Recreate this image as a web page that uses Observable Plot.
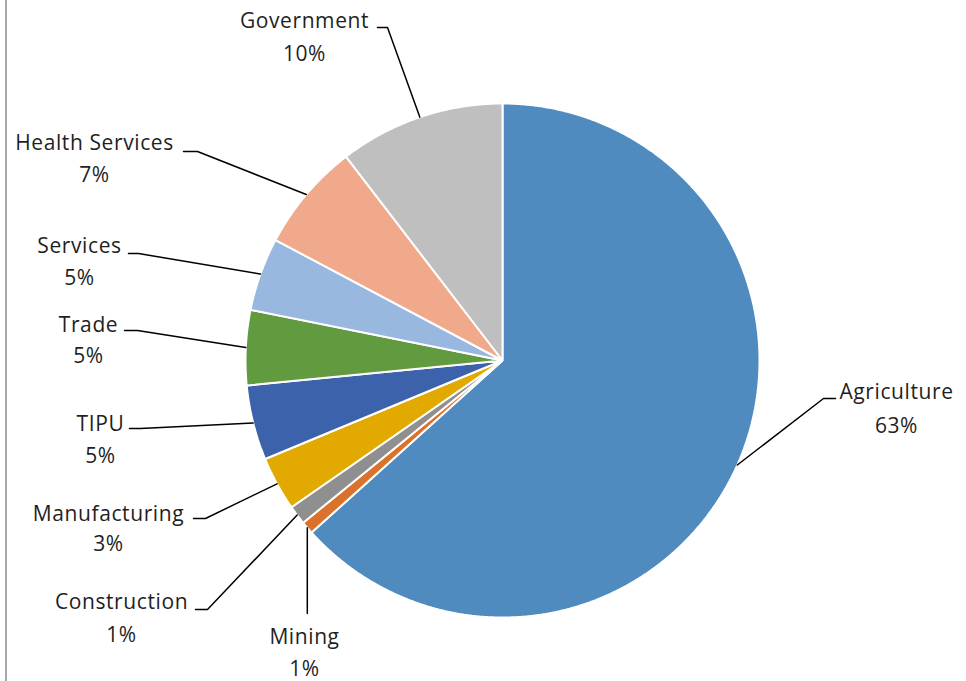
<!DOCTYPE html>
<html>
<head>
<meta charset="utf-8">
<script src="https://cdn.jsdelivr.net/npm/d3@7"></script>
<script src="https://cdn.jsdelivr.net/npm/@observablehq/plot@0.6"></script>
<style>
  html, body { margin: 0; padding: 0; background: #fff; }
  #wrap { position: relative; width: 966px; height: 681px; overflow: hidden; }
  #frame { position: absolute; left: 5px; top: 0; width: 0; height: 681px; border-left: 2px solid #a8a8a8; }
  #chart { position: absolute; left: 0; top: 0; }
</style>
</head>
<body>
<div id="wrap"><div id="chart"></div><div id="frame"></div></div>
<script>
// ---- data ----
const categories = ["Agriculture", "Mining", "Construction", "Manufacturing", "TIPU", "Trade", "Services", "Health Services", "Government"];
const shares = [63.2, 0.8, 1.2, 3.4, 4.7, 4.7, 4.6, 6.8, 10.4];
const colors = ["#4F8BBE", "#DB722C", "#8F8F8F", "#E2AA00", "#3C62AC", "#629A3F", "#98B8DF", "#F0A98A", "#BFBFBF"];

// ---- layout (label placement, chart units) ----
const CX = 502, CY = 360, R = 257;
// name centre x, name baseline, percent baseline, leader horizontal segment x1->x2 at ly
const labelLayout = [
  {tx: 896, ty: 398, py: 432, lx1: 835, lx2: 823, ly: 398},   // Agriculture
  {tx: 304, ty: 643, py: 675, lx1: null, lx2: null, ly: 613}, // Mining
  {tx: 121, ty: 608, py: 641, lx1: 195, lx2: 207, ly: 609},   // Construction
  {tx: 108, ty: 520, py: 550, lx1: 193, lx2: 205, ly: 518},   // Manufacturing
  {tx: 100, ty: 430, py: 462, lx1: 129, lx2: 140, ly: 428},   // TIPU
  {tx: 88,  ty: 331, py: 362, lx1: 124, lx2: 137, ly: 330},   // Trade
  {tx: 79,  ty: 252, py: 284, lx1: 128, lx2: 138, ly: 253},   // Services
  {tx: 94,  ty: 149, py: 181, lx1: 183, lx2: 197, ly: 151},   // Health Services
  {tx: 304, ty: 27,  py: 60,  lx1: 377, lx2: 387, ly: 27}     // Government
];

const total = d3.sum(shares);
const arcs = d3.pie().sort(null).value(d => d)(shares);
const pt = (a, r) => [CX + r * Math.sin(a), CY - r * Math.cos(a)];

// slice outlines
const slicePts = [];
arcs.forEach((a, i) => {
  const name = categories[i];
  slicePts.push({name, x: CX, y: CY});
  const steps = Math.max(2, Math.ceil((a.endAngle - a.startAngle) / 0.005));
  for (let k = 0; k <= steps; k++) {
    const t = a.startAngle + (a.endAngle - a.startAngle) * k / steps;
    const [x, y] = pt(t, R);
    slicePts.push({name, x, y});
  }
});

// labels and leader lines
const labels = categories.map((name, i) => ({
  name,
  pct: Math.round(shares[i] / total * 100) + "%",
  ...labelLayout[i]
}));
const leaderPts = [];
arcs.forEach((a, i) => {
  const L = labelLayout[i];
  const mid = (a.startAngle + a.endAngle) / 2;
  const [ex, ey] = pt(mid, R);
  const name = categories[i];
  if (L.lx1 == null) {
    leaderPts.push({name, x: ex, y: ey}, {name, x: ex, y: L.ly});
  } else {
    leaderPts.push({name, x: L.lx1, y: L.ly}, {name, x: L.lx2, y: L.ly}, {name, x: ex, y: ey});
  }
});

const font = "'Open Sans', 'Noto Sans', sans-serif";
const plot = Plot.plot({
  width: 966,
  height: 681,
  margin: 0,
  x: {domain: [0, 966], range: [0, 966], axis: null},
  y: {domain: [0, 681], range: [0, 681], axis: null},
  color: {domain: categories, range: colors},
  style: {background: "transparent", fontFamily: font},
  marks: [
    Plot.line(slicePts, {x: "x", y: "y", z: "name", fill: "name", stroke: "white", strokeWidth: 2, strokeLinejoin: "miter", curve: "linear-closed"}),
    Plot.line(leaderPts, {x: "x", y: "y", z: "name", stroke: "#000", strokeWidth: 1.5, curve: "linear"}),
    Plot.text(labels, {x: "tx", y: "ty", text: "name", lineAnchor: "bottom", textAnchor: "middle", fontSize: 21, fill: "#1f1f1f", fontFamily: font, style: "letter-spacing:0.6px"}),
    Plot.text(labels, {x: "tx", y: "py", text: "pct", lineAnchor: "bottom", textAnchor: "middle", fontSize: 21, fill: "#1f1f1f", fontFamily: font})
  ]
});
plot.querySelectorAll("text").forEach(t => t.style.letterSpacing = "0.6px");
document.getElementById("chart").appendChild(plot);
</script>
</body>
</html>
